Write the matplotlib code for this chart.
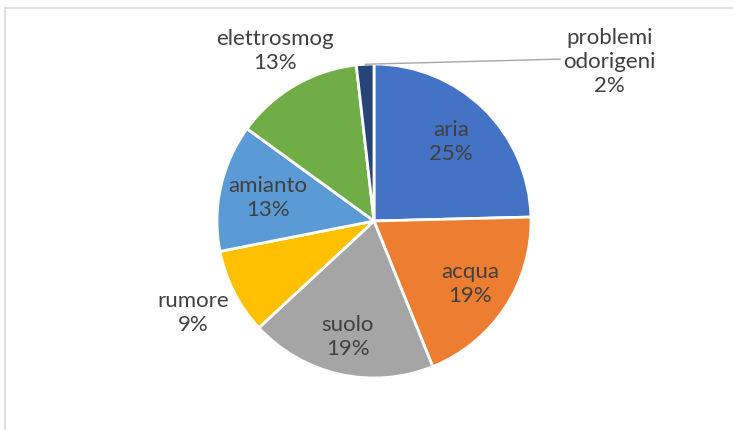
import numpy as np
import matplotlib
matplotlib.use("Agg")
import matplotlib.pyplot as plt
from matplotlib.lines import Line2D

# data (shares in %)
categories = ["aria", "acqua", "suolo", "rumore", "amianto", "elettrosmog", "problemi\nodorigeni"]
shares = [24.6, 19.3, 19.2, 8.8, 13.1, 13.2, 1.8]
colors = ["#4472C4", "#ED7D31", "#A5A5A5", "#FFC000", "#5B9BD5", "#70AD47", "#264478"]
label_dist = [0.70, 0.73, 0.76, 1.29, 0.69, 1.25, None]

plt.rcParams['font.family'] = ['Lato', 'DejaVu Sans']

fig = plt.figure(figsize=(7.33, 4.30), dpi=100)
ax = fig.add_axes([0, 0, 1, 1])

wedges, _ = ax.pie(shares, colors=colors, startangle=90, counterclock=False,
                   radius=1.0, wedgeprops=dict(edgecolor="white", linewidth=2))

# pie resets the limits, so set them afterwards
ax.set_xlim(-374 / 157, (733 - 374) / 157)
ax.set_ylim(-(430 - 221) / 157, 221 / 157)
ax.axis("off")

total = sum(shares)
txt_color = "#404040"
fs = 16
for w, cat, v, d in zip(wedges, categories, shares, label_dist):
    pct = f"{round(100 * v / total)}%"
    ang = np.deg2rad((w.theta1 + w.theta2) / 2)
    if d is None:
        # leader line label
        ax.annotate(f"{cat}\n{pct}", xy=(np.cos(ang), np.sin(ang)),
                    xytext=(1.50, 1.01), ha="center", va="center",
                    fontsize=fs, color=txt_color, linespacing=1.25,
                    arrowprops=dict(arrowstyle="-", color="#A6A6A6", lw=1,
                                    shrinkA=0, shrinkB=0,
                                    relpos=(0.0, 0.55)))
        continue
    ax.text(d * np.cos(ang), d * np.sin(ang), f"{cat}\n{pct}",
            ha="center", va="center", fontsize=fs, color=txt_color,
            linespacing=1.25)

# chart frame (cropped on right and bottom)
fx = 5 / 733
fy = 1 - 8 / 430
fig.add_artist(Line2D([fx, fx], [0, fy], transform=fig.transFigure, color="#D9D9D9", lw=1.2))
fig.add_artist(Line2D([fx, 1], [fy, fy], transform=fig.transFigure, color="#D9D9D9", lw=1.2))

fig.savefig("out.png", dpi=100)
